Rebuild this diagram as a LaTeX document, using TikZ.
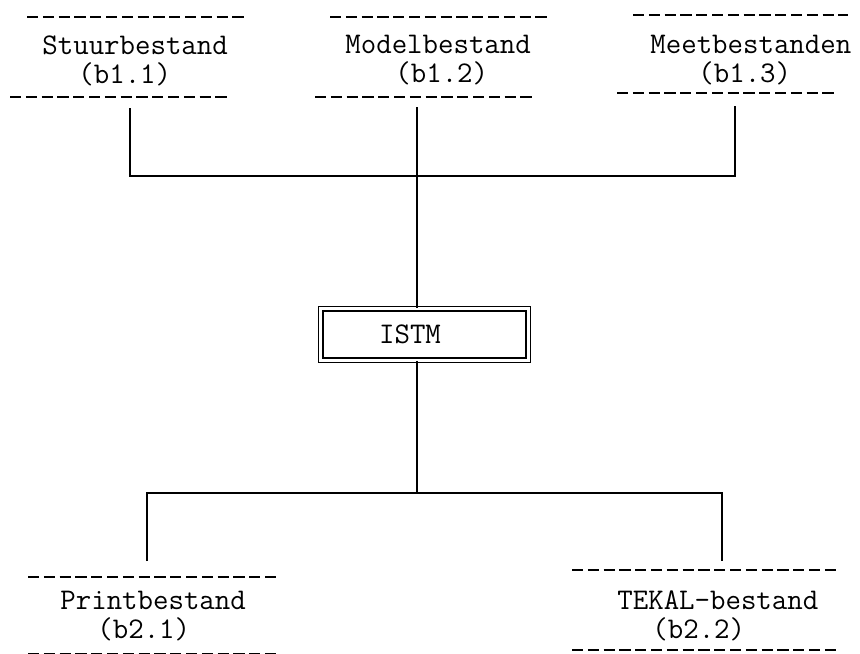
\documentclass[tikz,border=0pt]{standalone}
\usepackage{fontspec}
\begin{document}
\begin{tikzpicture}[
      x = 0.5pt, y = -0.5pt,
      every node/.style = {font = \ttfamily\fontsize{15}{14.5}\selectfont, inner sep = 0pt},
      store/.style = {anchor = north west, align = left},
      bar/.style = {line width = 1.1pt, dash pattern = on 5.6pt off 2.3pt},
      link/.style = {line width = 0.75pt},
      proc/.style = {draw, double, double distance = 1.6pt, line width = 0.6pt,
                     minimum width = 103.7pt, minimum height = 25.7pt}
      ]
      \useasboundingbox (0,0) rectangle (860,653);
      % invoer
      \node[store] (stuur) at (42,35) {Stuurbestand\\\hspace*{18pt}(b1.1)};
      \node[store] (model) at (345,35) {Modelbestand\\\hspace*{25pt}(b1.2)};
      \node[store] (meet) at (650,35) {Meetbestanden\\\hspace*{24pt}(b1.3)};
      \draw[bar] (27,17) -- (247,17);
      \draw[bar] (10,97) -- (230,97);
      \draw[bar] (330,17) -- (548,17);
      \draw[bar] (315,97) -- (532,97);
      \draw[bar] (633,15) -- (848,15);
      \draw[bar] (617,93) -- (836,93);
      % programma
      \node[proc] (istm) at (424.5,334.5) {ISTM\hspace*{14.5pt}};
      % uitvoer
      \node[store] (print) at (60,591) {Printbestand\\\hspace*{18.5pt}(b2.1)};
      \node[store] (tekal) at (617,590) {TEKAL-bestand\\\hspace*{17.5pt}(b2.2)};
      \draw[bar] (28,577) -- (279,577);
      \draw[bar] (28,654) -- (279,654);
      \draw[bar] (572,570) -- (840,570);
      \draw[bar] (572,650) -- (840,650);
      % verbindingen
      \coordinate (s1) at (130,108);
      \coordinate (s2) at (417,107);
      \coordinate (s3) at (735,106);
      \coordinate (bus) at (417,176);
      \coordinate (split) at (417,493);
      \coordinate (p1) at (147,561);
      \coordinate (p2) at (722,561);
      \draw[link] (s1) |- (bus) -| (s3);
      \draw[link] (s2) -- (s2 |- istm.north);
      \draw[link] (s2 |- istm.south) -- (split);
      \draw[link] (p1) |- (split) -| (p2);
    \end{tikzpicture}
\end{document}
